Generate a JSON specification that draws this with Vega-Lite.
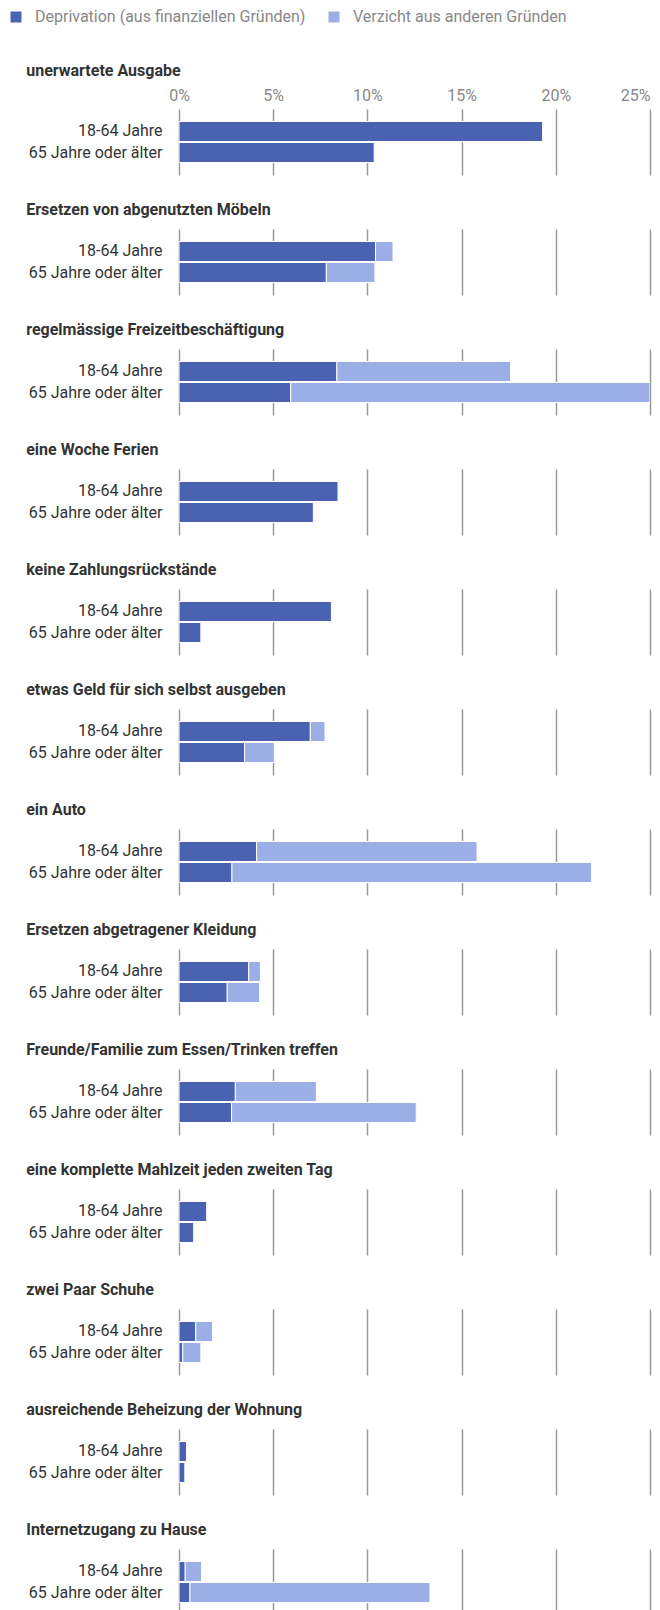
{
  "$schema": "https://vega.github.io/schema/vega-lite/v6.json",
  "padding": {"left": 8, "top": 9, "right": 5, "bottom": 5},
  "datasets": {
    "rows": [
      {"item": "unerwartete Ausgabe", "age": "18-64 Jahre", "type": "Deprivation (aus finanziellen Gründen)", "value": 19.3},
      {"item": "unerwartete Ausgabe", "age": "65 Jahre oder älter", "type": "Deprivation (aus finanziellen Gründen)", "value": 10.36},
      {"item": "Ersetzen von abgenutzten Möbeln", "age": "18-64 Jahre", "type": "Deprivation (aus finanziellen Gründen)", "value": 10.43},
      {"item": "Ersetzen von abgenutzten Möbeln", "age": "18-64 Jahre", "type": "Verzicht aus anderen Gründen", "value": 0.93},
      {"item": "Ersetzen von abgenutzten Möbeln", "age": "65 Jahre oder älter", "type": "Deprivation (aus finanziellen Gründen)", "value": 7.82},
      {"item": "Ersetzen von abgenutzten Möbeln", "age": "65 Jahre oder älter", "type": "Verzicht aus anderen Gründen", "value": 2.58},
      {"item": "regelmässige Freizeitbeschäftigung", "age": "18-64 Jahre", "type": "Deprivation (aus finanziellen Gründen)", "value": 8.38},
      {"item": "regelmässige Freizeitbeschäftigung", "age": "18-64 Jahre", "type": "Verzicht aus anderen Gründen", "value": 9.22},
      {"item": "regelmässige Freizeitbeschäftigung", "age": "65 Jahre oder älter", "type": "Deprivation (aus finanziellen Gründen)", "value": 5.93},
      {"item": "regelmässige Freizeitbeschäftigung", "age": "65 Jahre oder älter", "type": "Verzicht aus anderen Gründen", "value": 19.07},
      {"item": "eine Woche Ferien", "age": "18-64 Jahre", "type": "Deprivation (aus finanziellen Gründen)", "value": 8.44},
      {"item": "eine Woche Ferien", "age": "65 Jahre oder älter", "type": "Deprivation (aus finanziellen Gründen)", "value": 7.13},
      {"item": "keine Zahlungsrückstände", "age": "18-64 Jahre", "type": "Deprivation (aus finanziellen Gründen)", "value": 8.09},
      {"item": "keine Zahlungsrückstände", "age": "65 Jahre oder älter", "type": "Deprivation (aus finanziellen Gründen)", "value": 1.16},
      {"item": "etwas Geld für sich selbst ausgeben", "age": "18-64 Jahre", "type": "Deprivation (aus finanziellen Gründen)", "value": 6.97},
      {"item": "etwas Geld für sich selbst ausgeben", "age": "18-64 Jahre", "type": "Verzicht aus anderen Gründen", "value": 0.78},
      {"item": "etwas Geld für sich selbst ausgeben", "age": "65 Jahre oder älter", "type": "Deprivation (aus finanziellen Gründen)", "value": 3.48},
      {"item": "etwas Geld für sich selbst ausgeben", "age": "65 Jahre oder älter", "type": "Verzicht aus anderen Gründen", "value": 1.58},
      {"item": "ein Auto", "age": "18-64 Jahre", "type": "Deprivation (aus finanziellen Gründen)", "value": 4.12},
      {"item": "ein Auto", "age": "18-64 Jahre", "type": "Verzicht aus anderen Gründen", "value": 11.7},
      {"item": "ein Auto", "age": "65 Jahre oder älter", "type": "Deprivation (aus finanziellen Gründen)", "value": 2.81},
      {"item": "ein Auto", "age": "65 Jahre oder älter", "type": "Verzicht aus anderen Gründen", "value": 19.09},
      {"item": "Ersetzen abgetragener Kleidung", "age": "18-64 Jahre", "type": "Deprivation (aus finanziellen Gründen)", "value": 3.7},
      {"item": "Ersetzen abgetragener Kleidung", "age": "18-64 Jahre", "type": "Verzicht aus anderen Gründen", "value": 0.62},
      {"item": "Ersetzen abgetragener Kleidung", "age": "65 Jahre oder älter", "type": "Deprivation (aus finanziellen Gründen)", "value": 2.56},
      {"item": "Ersetzen abgetragener Kleidung", "age": "65 Jahre oder älter", "type": "Verzicht aus anderen Gründen", "value": 1.72},
      {"item": "Freunde/Familie zum Essen/Trinken treffen", "age": "18-64 Jahre", "type": "Deprivation (aus finanziellen Gründen)", "value": 2.99},
      {"item": "Freunde/Familie zum Essen/Trinken treffen", "age": "18-64 Jahre", "type": "Verzicht aus anderen Gründen", "value": 4.3},
      {"item": "Freunde/Familie zum Essen/Trinken treffen", "age": "65 Jahre oder älter", "type": "Deprivation (aus finanziellen Gründen)", "value": 2.79},
      {"item": "Freunde/Familie zum Essen/Trinken treffen", "age": "65 Jahre oder älter", "type": "Verzicht aus anderen Gründen", "value": 9.8},
      {"item": "eine komplette Mahlzeit jeden zweiten Tag", "age": "18-64 Jahre", "type": "Deprivation (aus finanziellen Gründen)", "value": 1.47},
      {"item": "eine komplette Mahlzeit jeden zweiten Tag", "age": "65 Jahre oder älter", "type": "Deprivation (aus finanziellen Gründen)", "value": 0.78},
      {"item": "zwei Paar Schuhe", "age": "18-64 Jahre", "type": "Deprivation (aus finanziellen Gründen)", "value": 0.89},
      {"item": "zwei Paar Schuhe", "age": "18-64 Jahre", "type": "Verzicht aus anderen Gründen", "value": 0.89},
      {"item": "zwei Paar Schuhe", "age": "65 Jahre oder älter", "type": "Deprivation (aus finanziellen Gründen)", "value": 0.2},
      {"item": "zwei Paar Schuhe", "age": "65 Jahre oder älter", "type": "Verzicht aus anderen Gründen", "value": 0.96},
      {"item": "ausreichende Beheizung der Wohnung", "age": "18-64 Jahre", "type": "Deprivation (aus finanziellen Gründen)", "value": 0.4},
      {"item": "ausreichende Beheizung der Wohnung", "age": "65 Jahre oder älter", "type": "Deprivation (aus finanziellen Gründen)", "value": 0.31},
      {"item": "Internetzugang zu Hause", "age": "18-64 Jahre", "type": "Deprivation (aus finanziellen Gründen)", "value": 0.33},
      {"item": "Internetzugang zu Hause", "age": "18-64 Jahre", "type": "Verzicht aus anderen Gründen", "value": 0.87},
      {"item": "Internetzugang zu Hause", "age": "65 Jahre oder älter", "type": "Deprivation (aus finanziellen Gründen)", "value": 0.58},
      {"item": "Internetzugang zu Hause", "age": "65 Jahre oder älter", "type": "Verzicht aus anderen Gründen", "value": 12.74}
    ]
  },
  "data": {"name": "rows"},
  "resolve": {"scale": {"x": "independent", "y": "independent", "color": "shared"}, "axis": {"x": "independent", "y": "independent"}},
  "vconcat": [
    {
      "title": {"text": "unerwartete Ausgabe", "offset": 8},
      "transform": [{"filter": {"field": "item", "equal": "unerwartete Ausgabe"}}],
      "width": 471, "height": 66,
      "mark": {"type": "bar", "stroke": "white", "strokeWidth": 1, "clip": true},
      "encoding": {
        "x": {"field": "value", "type": "quantitative", "stack": "zero", "scale": {"domain": [0, 25], "nice": false},
              "axis": {"orient": "top", "title": null, "values": [0, 5, 10, 15, 20, 25], "labelExpr": "datum.value + '%'", "labelFlush": false,
                       "labelAlign": {"condition": {"test": "datum.value === 25", "value": "right"}, "value": "center"}}},
        "y": {"field": "age", "type": "nominal", "title": null, "scale": {"paddingInner": 0.048, "paddingOuter": 0.595}},
        "color": {"field": "type", "type": "nominal", "scale": {"domain": ["Deprivation (aus finanziellen Gründen)", "Verzicht aus anderen Gründen"], "range": ["#4A62B2", "#9BAEE5"]}, "legend": {"title": null}}
      }
    },
    {
      "title": "Ersetzen von abgenutzten Möbeln",
      "transform": [{"filter": {"field": "item", "equal": "Ersetzen von abgenutzten Möbeln"}}],
      "width": 471, "height": 66,
      "mark": {"type": "bar", "stroke": "white", "strokeWidth": 1, "clip": true},
      "encoding": {
        "x": {"field": "value", "type": "quantitative", "stack": "zero", "scale": {"domain": [0, 25], "nice": false}, "axis": {"orient": "top", "title": null, "labels": false, "values": [0, 5, 10, 15, 20, 25]}},
        "y": {"field": "age", "type": "nominal", "title": null, "scale": {"paddingInner": 0.048, "paddingOuter": 0.595}},
        "color": {"field": "type", "type": "nominal", "legend": {"title": null}}
      }
    },
    {
      "title": "regelmässige Freizeitbeschäftigung",
      "transform": [{"filter": {"field": "item", "equal": "regelmässige Freizeitbeschäftigung"}}],
      "width": 471, "height": 66,
      "mark": {"type": "bar", "stroke": "white", "strokeWidth": 1, "clip": true},
      "encoding": {
        "x": {"field": "value", "type": "quantitative", "stack": "zero", "scale": {"domain": [0, 25], "nice": false}, "axis": {"orient": "top", "title": null, "labels": false, "values": [0, 5, 10, 15, 20, 25]}},
        "y": {"field": "age", "type": "nominal", "title": null, "scale": {"paddingInner": 0.048, "paddingOuter": 0.595}},
        "color": {"field": "type", "type": "nominal", "legend": {"title": null}}
      }
    },
    {
      "title": "eine Woche Ferien",
      "transform": [{"filter": {"field": "item", "equal": "eine Woche Ferien"}}],
      "width": 471, "height": 66,
      "mark": {"type": "bar", "stroke": "white", "strokeWidth": 1, "clip": true},
      "encoding": {
        "x": {"field": "value", "type": "quantitative", "stack": "zero", "scale": {"domain": [0, 25], "nice": false}, "axis": {"orient": "top", "title": null, "labels": false, "values": [0, 5, 10, 15, 20, 25]}},
        "y": {"field": "age", "type": "nominal", "title": null, "scale": {"paddingInner": 0.048, "paddingOuter": 0.595}},
        "color": {"field": "type", "type": "nominal", "legend": {"title": null}}
      }
    },
    {
      "title": "keine Zahlungsrückstände",
      "transform": [{"filter": {"field": "item", "equal": "keine Zahlungsrückstände"}}],
      "width": 471, "height": 66,
      "mark": {"type": "bar", "stroke": "white", "strokeWidth": 1, "clip": true},
      "encoding": {
        "x": {"field": "value", "type": "quantitative", "stack": "zero", "scale": {"domain": [0, 25], "nice": false}, "axis": {"orient": "top", "title": null, "labels": false, "values": [0, 5, 10, 15, 20, 25]}},
        "y": {"field": "age", "type": "nominal", "title": null, "scale": {"paddingInner": 0.048, "paddingOuter": 0.595}},
        "color": {"field": "type", "type": "nominal", "legend": {"title": null}}
      }
    },
    {
      "title": "etwas Geld für sich selbst ausgeben",
      "transform": [{"filter": {"field": "item", "equal": "etwas Geld für sich selbst ausgeben"}}],
      "width": 471, "height": 66,
      "mark": {"type": "bar", "stroke": "white", "strokeWidth": 1, "clip": true},
      "encoding": {
        "x": {"field": "value", "type": "quantitative", "stack": "zero", "scale": {"domain": [0, 25], "nice": false}, "axis": {"orient": "top", "title": null, "labels": false, "values": [0, 5, 10, 15, 20, 25]}},
        "y": {"field": "age", "type": "nominal", "title": null, "scale": {"paddingInner": 0.048, "paddingOuter": 0.595}},
        "color": {"field": "type", "type": "nominal", "legend": {"title": null}}
      }
    },
    {
      "title": "ein Auto",
      "transform": [{"filter": {"field": "item", "equal": "ein Auto"}}],
      "width": 471, "height": 66,
      "mark": {"type": "bar", "stroke": "white", "strokeWidth": 1, "clip": true},
      "encoding": {
        "x": {"field": "value", "type": "quantitative", "stack": "zero", "scale": {"domain": [0, 25], "nice": false}, "axis": {"orient": "top", "title": null, "labels": false, "values": [0, 5, 10, 15, 20, 25]}},
        "y": {"field": "age", "type": "nominal", "title": null, "scale": {"paddingInner": 0.048, "paddingOuter": 0.595}},
        "color": {"field": "type", "type": "nominal", "legend": {"title": null}}
      }
    },
    {
      "title": "Ersetzen abgetragener Kleidung",
      "transform": [{"filter": {"field": "item", "equal": "Ersetzen abgetragener Kleidung"}}],
      "width": 471, "height": 66,
      "mark": {"type": "bar", "stroke": "white", "strokeWidth": 1, "clip": true},
      "encoding": {
        "x": {"field": "value", "type": "quantitative", "stack": "zero", "scale": {"domain": [0, 25], "nice": false}, "axis": {"orient": "top", "title": null, "labels": false, "values": [0, 5, 10, 15, 20, 25]}},
        "y": {"field": "age", "type": "nominal", "title": null, "scale": {"paddingInner": 0.048, "paddingOuter": 0.595}},
        "color": {"field": "type", "type": "nominal", "legend": {"title": null}}
      }
    },
    {
      "title": "Freunde/Familie zum Essen/Trinken treffen",
      "transform": [{"filter": {"field": "item", "equal": "Freunde/Familie zum Essen/Trinken treffen"}}],
      "width": 471, "height": 66,
      "mark": {"type": "bar", "stroke": "white", "strokeWidth": 1, "clip": true},
      "encoding": {
        "x": {"field": "value", "type": "quantitative", "stack": "zero", "scale": {"domain": [0, 25], "nice": false}, "axis": {"orient": "top", "title": null, "labels": false, "values": [0, 5, 10, 15, 20, 25]}},
        "y": {"field": "age", "type": "nominal", "title": null, "scale": {"paddingInner": 0.048, "paddingOuter": 0.595}},
        "color": {"field": "type", "type": "nominal", "legend": {"title": null}}
      }
    },
    {
      "title": "eine komplette Mahlzeit jeden zweiten Tag",
      "transform": [{"filter": {"field": "item", "equal": "eine komplette Mahlzeit jeden zweiten Tag"}}],
      "width": 471, "height": 66,
      "mark": {"type": "bar", "stroke": "white", "strokeWidth": 1, "clip": true},
      "encoding": {
        "x": {"field": "value", "type": "quantitative", "stack": "zero", "scale": {"domain": [0, 25], "nice": false}, "axis": {"orient": "top", "title": null, "labels": false, "values": [0, 5, 10, 15, 20, 25]}},
        "y": {"field": "age", "type": "nominal", "title": null, "scale": {"paddingInner": 0.048, "paddingOuter": 0.595}},
        "color": {"field": "type", "type": "nominal", "legend": {"title": null}}
      }
    },
    {
      "title": "zwei Paar Schuhe",
      "transform": [{"filter": {"field": "item", "equal": "zwei Paar Schuhe"}}],
      "width": 471, "height": 66,
      "mark": {"type": "bar", "stroke": "white", "strokeWidth": 1, "clip": true},
      "encoding": {
        "x": {"field": "value", "type": "quantitative", "stack": "zero", "scale": {"domain": [0, 25], "nice": false}, "axis": {"orient": "top", "title": null, "labels": false, "values": [0, 5, 10, 15, 20, 25]}},
        "y": {"field": "age", "type": "nominal", "title": null, "scale": {"paddingInner": 0.048, "paddingOuter": 0.595}},
        "color": {"field": "type", "type": "nominal", "legend": {"title": null}}
      }
    },
    {
      "title": "ausreichende Beheizung der Wohnung",
      "transform": [{"filter": {"field": "item", "equal": "ausreichende Beheizung der Wohnung"}}],
      "width": 471, "height": 66,
      "mark": {"type": "bar", "stroke": "white", "strokeWidth": 1, "clip": true},
      "encoding": {
        "x": {"field": "value", "type": "quantitative", "stack": "zero", "scale": {"domain": [0, 25], "nice": false}, "axis": {"orient": "top", "title": null, "labels": false, "values": [0, 5, 10, 15, 20, 25]}},
        "y": {"field": "age", "type": "nominal", "title": null, "scale": {"paddingInner": 0.048, "paddingOuter": 0.595}},
        "color": {"field": "type", "type": "nominal", "legend": {"title": null}}
      }
    },
    {
      "title": "Internetzugang zu Hause",
      "transform": [{"filter": {"field": "item", "equal": "Internetzugang zu Hause"}}],
      "width": 471, "height": 66,
      "mark": {"type": "bar", "stroke": "white", "strokeWidth": 1, "clip": true},
      "encoding": {
        "x": {"field": "value", "type": "quantitative", "stack": "zero", "scale": {"domain": [0, 25], "nice": false}, "axis": {"orient": "top", "title": null, "labels": false, "values": [0, 5, 10, 15, 20, 25]}},
        "y": {"field": "age", "type": "nominal", "title": null, "scale": {"paddingInner": 0.048, "paddingOuter": 0.595}},
        "color": {"field": "type", "type": "nominal", "legend": {"title": null}}
      }
    }
  ],
  "config": {
    "font": "Roboto",
    "view": {"stroke": null},
    "concat": {"spacing": 27},
    "axis": {"domain": false, "ticks": false, "labelFont": "Roboto"},
    "axisX": {"grid": true, "gridColor": "#999999", "gridWidth": 1.5, "labelColor": "#888888", "labelFontSize": 16, "labelPadding": 6},
    "axisY": {"grid": false, "labelColor": "#333333", "labelFontSize": 16, "labelPadding": 17, "labelLimit": 300},
    "title": {"anchor": "start", "frame": "bounds", "fontSize": 16, "fontWeight": "bold", "color": "#333333", "font": "Roboto", "offset": 11, "dx": -2},
    "legend": {"orient": "none", "legendX": -171, "legendY": -100, "direction": "horizontal", "symbolType": "square", "symbolSize": 121, "symbolStrokeWidth": 0, "labelFont": "Roboto", "labelFontSize": 16, "labelColor": "#888888", "columnPadding": 20, "labelOffset": 11, "padding": 0, "labelLimit": 400}
  }
}
